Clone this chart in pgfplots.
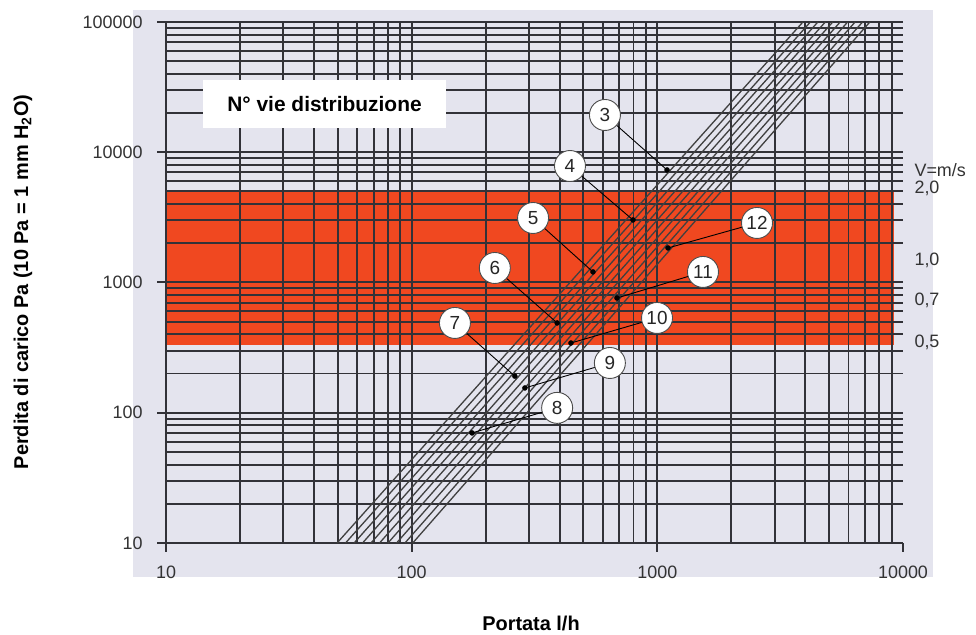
\documentclass[border=0pt]{standalone}
\usepackage{pgfplots}
\pgfplotsset{compat=1.18}
\usepackage{fontspec}
\setmainfont{Liberation Sans}
\definecolor{bgc}{RGB}{228,228,238}
\definecolor{redband}{RGB}{240,72,32}
\definecolor{gridc}{RGB}{50,50,56}
\begin{document}
\begin{tikzpicture}[x=1bp,y=1bp]
\useasboundingbox (0,0) rectangle (976,635);
\fill[bgc] (133,58) rectangle (933,625);
\begin{axis}[xmode=log, ymode=log, xmin=10, xmax=10000, ymin=10, ymax=100000,
  scale only axis, width=737bp, height=521bp, at={(166bp,92bp)}, anchor=south west, hide axis]
\addplot[fill=redband, draw=none] coordinates {(10,330) (9200,330) (9200,5000) (10,5000)};
\end{axis}
\begin{axis}[xmode=log, ymode=log, xmin=10, xmax=10000, ymin=10, ymax=100000,
  scale only axis, width=737bp, height=521bp, at={(166bp,92bp)}, anchor=south west,
  axis line style={draw=none},
  grid=both,
  xtick={10,100,1000}, xticklabels={10,100,1000},
  extra x ticks={10000}, extra x tick labels={10000}, extra x tick style={grid=none},
  ytick={10,100,1000,10000,100000}, yticklabels={10,100,1000,10000,100000},
  minor xtick={20,30,40,50,60,70,80,90,200,300,400,500,600,700,800,900,2000,3000,4000,5000,6000,7000,8000,9000},
  minor ytick={20,30,40,50,60,70,80,90,200,300,400,500,600,700,800,900,2000,3000,4000,5000,6000,7000,8000,9000,20000,30000,40000,50000,60000,70000,80000,90000},
  xtick pos=left, ytick pos=left, tick align=outside,
  major tick length=9bp, minor tick length=0pt,
  major tick style={gridc, line width=2bp},
  major grid style={gridc, line width=2bp},
  minor grid style={gridc, line width=1.9bp},
  ticklabel style={font=\fontsize{18}{18}\selectfont, text=black!80},
  yticklabel style={xshift=-11bp},
  xticklabel style={yshift=-10bp},
  clip=false,
]
% diagonal lines (number of distribution ways)
\addplot[black!75, line width=1.3bp] coordinates {(49.7,10) (3915,100000)};
\addplot[black!75, line width=1.3bp] coordinates {(53.8,10) (4198,100000)};
\addplot[black!75, line width=1.3bp] coordinates {(58.3,10) (4502,100000)};
\addplot[black!75, line width=1.3bp] coordinates {(63.1,10) (4827,100000)};
\addplot[black!75, line width=1.3bp] coordinates {(68.3,10) (5176,100000)};
\addplot[black!75, line width=1.3bp] coordinates {(74.0,10) (5550,100000)};
\addplot[black!75, line width=1.3bp] coordinates {(80.1,10) (5952,100000)};
\addplot[black!75, line width=1.3bp] coordinates {(86.8,10) (6382,100000)};
\addplot[black!75, line width=1.3bp] coordinates {(93.9,10) (6844,100000)};
\addplot[black!75, line width=1.3bp] coordinates {(101,10) (7330,100000)};
% leader lines with numbered circles
\tikzset{lab/.style={circle, draw=black!70, line width=0.9bp, fill=white, minimum size=31bp, inner sep=0pt, font=\fontsize{19}{19}\selectfont, text=black!85}}
\addplot[black, line width=0.9bp] coordinates {(1095,7310) (612,19320)} node[lab, pos=1] {3};
\addplot[black, line width=0.9bp] coordinates {(796,3020) (441,7840)} node[lab, pos=1] {4};
\addplot[black, line width=0.9bp] coordinates {(547,1205) (312,3127)} node[lab, pos=1] {5};
\addplot[black, line width=0.9bp] coordinates {(391,489) (218,1292)} node[lab, pos=1] {6};
\addplot[black, line width=0.9bp] coordinates {(263,191) (150,489)} node[lab, pos=1] {7};
\addplot[black, line width=0.9bp] coordinates {(176,70) (391,109)} node[lab, pos=1] {8};
\addplot[black, line width=0.9bp] coordinates {(289,155) (641,241)} node[lab, pos=1] {9};
\addplot[black, line width=0.9bp] coordinates {(445,343) (997,534)} node[lab, pos=1] {10};
\addplot[black, line width=0.9bp] coordinates {(685,760) (1534,1205)} node[lab, pos=1] {11};
\addplot[black, line width=0.9bp] coordinates {(1105,1841) (2545,2864)} node[lab, pos=1] {12};
\addplot[only marks, mark=*, mark size=2.5bp, black] coordinates {(1095,7310) (796,3020) (547,1205) (391,489) (263,191) (176,70) (289,155) (445,343) (685,760) (1105,1841)};
% velocity labels
\node[anchor=west, font=\fontsize{18}{18}\selectfont, text=black!80, xshift=8bp] at (axis cs:10000,7310) {V=m/s};
\node[anchor=west, font=\fontsize{18}{18}\selectfont, text=black!80, xshift=8bp] at (axis cs:10000,5316) {2,0};
\node[anchor=west, font=\fontsize{18}{18}\selectfont, text=black!80, xshift=8bp] at (axis cs:10000,1488) {1,0};
\node[anchor=west, font=\fontsize{18}{18}\selectfont, text=black!80, xshift=8bp] at (axis cs:10000,734) {0,7};
\node[anchor=west, font=\fontsize{18}{18}\selectfont, text=black!80, xshift=8bp] at (axis cs:10000,349) {0,5};
\end{axis}
\node[fill=white, minimum width=243bp, minimum height=48bp, inner sep=0pt, font=\bfseries\fontsize{21}{21}\selectfont] at (324.5,531) {N° vie distribuzione};
\node[anchor=base, font=\bfseries\fontsize{20}{20}\selectfont] at (531,4) {Portata l/h};
\node[rotate=90, font=\bfseries\fontsize{20}{20}\selectfont] at (23,353) {Perdita di carico Pa (10 Pa = 1 mm H\textsubscript{2}O)};
\end{tikzpicture}
\end{document}
